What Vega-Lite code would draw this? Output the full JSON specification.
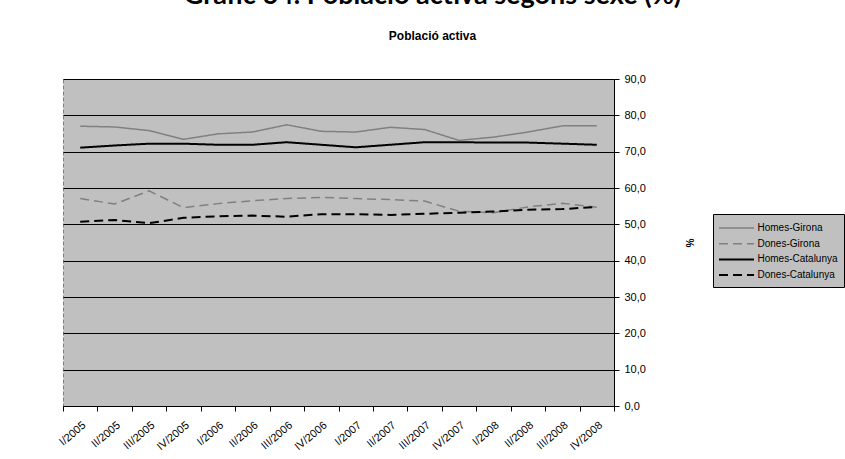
{
  "$schema": "https://vega.github.io/schema/vega-lite/v6.json",
  "width": 551,
  "height": 327,
  "autosize": {"type": "none"},
  "padding": {"left": 63, "top": 79, "right": 231, "bottom": 53},
  "background": "white",
  "title": {
    "text": "Gràfic 64. Població activa segons sexe (%)",
    "subtitle": "Població activa",
    "anchor": "middle",
    "frame": "group",
    "dx": 94,
    "offset": 30,
    "font": "Lato",
    "fontSize": 27,
    "fontWeight": "bold",
    "color": "black",
    "subtitleFont": "Liberation Sans",
    "subtitleFontSize": 12,
    "subtitleFontWeight": "bold",
    "subtitleColor": "black",
    "subtitlePadding": 21
  },
  "data": {
    "values": [
      {"trimestre": "I/2005", "serie": "Homes-Girona", "valor": 77.0},
      {"trimestre": "II/2005", "serie": "Homes-Girona", "valor": 76.8},
      {"trimestre": "III/2005", "serie": "Homes-Girona", "valor": 75.8},
      {"trimestre": "IV/2005", "serie": "Homes-Girona", "valor": 73.4},
      {"trimestre": "I/2006", "serie": "Homes-Girona", "valor": 74.9},
      {"trimestre": "II/2006", "serie": "Homes-Girona", "valor": 75.4},
      {"trimestre": "III/2006", "serie": "Homes-Girona", "valor": 77.4},
      {"trimestre": "IV/2006", "serie": "Homes-Girona", "valor": 75.6},
      {"trimestre": "I/2007", "serie": "Homes-Girona", "valor": 75.4},
      {"trimestre": "II/2007", "serie": "Homes-Girona", "valor": 76.7},
      {"trimestre": "III/2007", "serie": "Homes-Girona", "valor": 76.1},
      {"trimestre": "IV/2007", "serie": "Homes-Girona", "valor": 73.1},
      {"trimestre": "I/2008", "serie": "Homes-Girona", "valor": 74.0},
      {"trimestre": "II/2008", "serie": "Homes-Girona", "valor": 75.4},
      {"trimestre": "III/2008", "serie": "Homes-Girona", "valor": 77.1},
      {"trimestre": "IV/2008", "serie": "Homes-Girona", "valor": 77.1},
      {"trimestre": "I/2005", "serie": "Dones-Girona", "valor": 57.1},
      {"trimestre": "II/2005", "serie": "Dones-Girona", "valor": 55.6},
      {"trimestre": "III/2005", "serie": "Dones-Girona", "valor": 59.2},
      {"trimestre": "IV/2005", "serie": "Dones-Girona", "valor": 54.6},
      {"trimestre": "I/2006", "serie": "Dones-Girona", "valor": 55.7},
      {"trimestre": "II/2006", "serie": "Dones-Girona", "valor": 56.5},
      {"trimestre": "III/2006", "serie": "Dones-Girona", "valor": 57.1},
      {"trimestre": "IV/2006", "serie": "Dones-Girona", "valor": 57.4},
      {"trimestre": "I/2007", "serie": "Dones-Girona", "valor": 57.1},
      {"trimestre": "II/2007", "serie": "Dones-Girona", "valor": 56.8},
      {"trimestre": "III/2007", "serie": "Dones-Girona", "valor": 56.4},
      {"trimestre": "IV/2007", "serie": "Dones-Girona", "valor": 53.6},
      {"trimestre": "I/2008", "serie": "Dones-Girona", "valor": 53.2},
      {"trimestre": "II/2008", "serie": "Dones-Girona", "valor": 54.8},
      {"trimestre": "III/2008", "serie": "Dones-Girona", "valor": 55.8},
      {"trimestre": "IV/2008", "serie": "Dones-Girona", "valor": 54.7},
      {"trimestre": "I/2005", "serie": "Homes-Catalunya", "valor": 71.1},
      {"trimestre": "II/2005", "serie": "Homes-Catalunya", "valor": 71.7},
      {"trimestre": "III/2005", "serie": "Homes-Catalunya", "valor": 72.2},
      {"trimestre": "IV/2005", "serie": "Homes-Catalunya", "valor": 72.2},
      {"trimestre": "I/2006", "serie": "Homes-Catalunya", "valor": 71.9},
      {"trimestre": "II/2006", "serie": "Homes-Catalunya", "valor": 71.9},
      {"trimestre": "III/2006", "serie": "Homes-Catalunya", "valor": 72.6},
      {"trimestre": "IV/2006", "serie": "Homes-Catalunya", "valor": 71.9},
      {"trimestre": "I/2007", "serie": "Homes-Catalunya", "valor": 71.2},
      {"trimestre": "II/2007", "serie": "Homes-Catalunya", "valor": 71.9},
      {"trimestre": "III/2007", "serie": "Homes-Catalunya", "valor": 72.6},
      {"trimestre": "IV/2007", "serie": "Homes-Catalunya", "valor": 72.6},
      {"trimestre": "I/2008", "serie": "Homes-Catalunya", "valor": 72.5},
      {"trimestre": "II/2008", "serie": "Homes-Catalunya", "valor": 72.5},
      {"trimestre": "III/2008", "serie": "Homes-Catalunya", "valor": 72.2},
      {"trimestre": "IV/2008", "serie": "Homes-Catalunya", "valor": 71.9},
      {"trimestre": "I/2005", "serie": "Dones-Catalunya", "valor": 50.7},
      {"trimestre": "II/2005", "serie": "Dones-Catalunya", "valor": 51.2},
      {"trimestre": "III/2005", "serie": "Dones-Catalunya", "valor": 50.3},
      {"trimestre": "IV/2005", "serie": "Dones-Catalunya", "valor": 51.8},
      {"trimestre": "I/2006", "serie": "Dones-Catalunya", "valor": 52.2},
      {"trimestre": "II/2006", "serie": "Dones-Catalunya", "valor": 52.4},
      {"trimestre": "III/2006", "serie": "Dones-Catalunya", "valor": 52.1},
      {"trimestre": "IV/2006", "serie": "Dones-Catalunya", "valor": 52.8},
      {"trimestre": "I/2007", "serie": "Dones-Catalunya", "valor": 52.8},
      {"trimestre": "II/2007", "serie": "Dones-Catalunya", "valor": 52.6},
      {"trimestre": "III/2007", "serie": "Dones-Catalunya", "valor": 52.9},
      {"trimestre": "IV/2007", "serie": "Dones-Catalunya", "valor": 53.2},
      {"trimestre": "I/2008", "serie": "Dones-Catalunya", "valor": 53.5},
      {"trimestre": "II/2008", "serie": "Dones-Catalunya", "valor": 54.0},
      {"trimestre": "III/2008", "serie": "Dones-Catalunya", "valor": 54.2},
      {"trimestre": "IV/2008", "serie": "Dones-Catalunya", "valor": 54.8}
    ]
  },
  "mark": {"type": "line", "strokeCap": "butt", "strokeJoin": "miter"},
  "encoding": {
    "x": {
      "field": "trimestre",
      "type": "ordinal",
      "sort": null,
      "bandPosition": 0.5,
      "scale": {"type": "band", "paddingInner": 0, "paddingOuter": 0},
      "axis": {
        "title": null,
        "tickBand": "extent",
        "labelAngle": -40,
        "labelAlign": "right",
        "labelBaseline": "top",
        "labelFont": "Liberation Sans",
        "labelFontSize": 11,
        "labelColor": "black",
        "labelPadding": 8,
        "tickSize": 5,
        "tickColor": "black",
        "domainColor": "black",
        "grid": false
      }
    },
    "y": {
      "field": "valor",
      "type": "quantitative",
      "scale": {"domain": [0, 90], "nice": false, "zero": true},
      "axis": {
        "orient": "right",
        "values": [0, 10, 20, 30, 40, 50, 60, 70, 80, 90],
        "labelExpr": "replace(format(datum.value, '.1f'), '.', ',')",
        "labelFont": "Liberation Sans",
        "labelFontSize": 11,
        "labelColor": "black",
        "labelPadding": 5,
        "tickSize": 5,
        "tickColor": "black",
        "domainColor": "black",
        "grid": true,
        "gridColor": "black",
        "gridOpacity": 1,
        "gridWidth": 1,
        "title": "%",
        "titleFont": "Liberation Sans",
        "titleFontSize": 10,
        "titleFontWeight": "bold",
        "titleColor": "black",
        "titlePadding": 38
      }
    },
    "color": {
      "field": "serie",
      "type": "nominal",
      "scale": {
        "domain": ["Homes-Girona", "Dones-Girona", "Homes-Catalunya", "Dones-Catalunya"],
        "range": ["#808080", "#808080", "#000000", "#000000"]
      },
      "legend": {
        "title": null,
        "orient": "none",
        "legendX": 650,
        "legendY": 135,
        "fillColor": "#c0c0c0",
        "strokeColor": "black",
        "padding": 6,
        "symbolType": "M-2.5,0H2.5",
        "symbolSize": 196,
        "symbolOffset": 9.5,
        "symbolStrokeWidth": 1.5,
        "labelOffset": 13,
        "labelFont": "Liberation Sans",
        "labelFontSize": 10,
        "labelColor": "black",
        "rowPadding": 2.7
      }
    },
    "strokeDash": {
      "field": "serie",
      "type": "nominal",
      "scale": {
        "domain": ["Homes-Girona", "Dones-Girona", "Homes-Catalunya", "Dones-Catalunya"],
        "range": [[1, 0], [9, 5], [1, 0], [9, 5]]
      },
      "legend": {
        "title": null,
        "orient": "none",
        "legendX": 650,
        "legendY": 135,
        "fillColor": "#c0c0c0",
        "strokeColor": "black",
        "padding": 6,
        "symbolType": "M-2.5,0H2.5",
        "symbolSize": 196,
        "symbolOffset": 9.5,
        "symbolStrokeWidth": 1.5,
        "labelOffset": 13,
        "labelFont": "Liberation Sans",
        "labelFontSize": 10,
        "labelColor": "black",
        "rowPadding": 2.7
      }
    },
    "strokeWidth": {
      "field": "serie",
      "type": "nominal",
      "scale": {
        "type": "ordinal",
        "domain": ["Homes-Girona", "Dones-Girona", "Homes-Catalunya", "Dones-Catalunya"],
        "range": [1.5, 1.5, 2, 2]
      },
      "legend": null
    }
  },
  "config": {
    "view": {"fill": "#c0c0c0", "stroke": "#808080", "strokeDash": [4, 2], "strokeWidth": 1}
  }
}
